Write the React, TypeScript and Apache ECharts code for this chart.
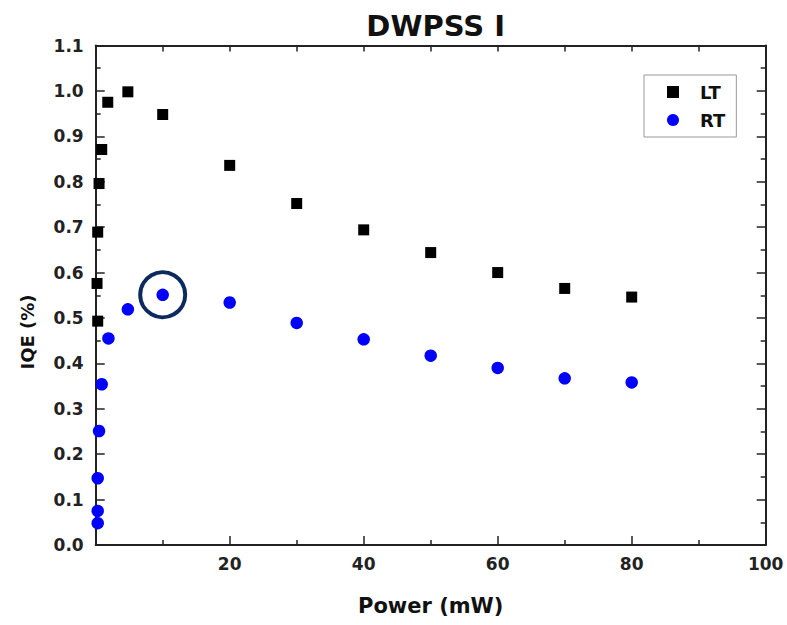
import React, { useEffect, useRef } from "react";
import * as echarts from "echarts";

const TITLE = "DWPSS I";
const X_NAME = "Power (mW)";
const Y_NAME = "IQE (%)";
const SERIES_NAMES = ["LT", "RT"];

// Power (mW) values
const LT_X = [0.3, 0.2, 0.3, 0.5, 0.9, 1.8, 4.8, 10, 20, 30, 40, 50, 60, 70, 80];
const LT_Y = [0.493, 0.576, 0.689, 0.796, 0.871, 0.975, 0.998, 0.948, 0.836, 0.752, 0.694, 0.644, 0.600, 0.565, 0.546];

const RT_X = [0.3, 0.3, 0.3, 0.5, 0.9, 1.9, 4.8, 10, 20, 30, 40, 50, 60, 70, 80];
const RT_Y = [0.048, 0.075, 0.147, 0.251, 0.354, 0.455, 0.519, 0.551, 0.534, 0.489, 0.453, 0.417, 0.390, 0.367, 0.358];

// highlighted point
const HIGHLIGHT = [[10, 0.551]];

const FONT = "DejaVu Sans";

export default function App() {
  const ref = useRef<HTMLDivElement>(null);

  useEffect(() => {
    if (!ref.current) return;
    const chart = echarts.init(ref.current, null, { renderer: "svg" });

    const lt = LT_X.map((x, i) => [x, LT_Y[i]]);
    const rt = RT_X.map((x, i) => [x, RT_Y[i]]);

    const mkLine = () => ({ show: true, onZero: false, lineStyle: { color: "#222", width: 2 } });
    const mkTick = (len: number) => ({
      show: true,
      inside: false,
      length: -len,
      lineStyle: { color: "#222", width: 1.5 },
    });
    const mkMinor = () => ({ show: true, splitNumber: 2, length: -5, lineStyle: { color: "#222", width: 1.5 } });

    chart.setOption({
      animation: false,
      backgroundColor: "#fff",
      title: {
        text: TITLE,
        left: 430.7,
        top: 6,
        textAlign: "center",
        textStyle: { fontFamily: FONT, fontWeight: "bold", fontSize: 29, color: "#111" },
      },
      grid: { left: 95.7, right: 21.3, top: 45.5, bottom: 80 },
      legend: {
        data: [
          { name: "LT", icon: "rect" },
          { name: "RT", icon: "circle" },
        ],
        orient: "vertical",
        left: 644,
        top: 75,
        padding: [8, 11, 8, 23],
        itemGap: 10,
        itemWidth: 12,
        itemHeight: 12,
        borderColor: "#999",
        borderWidth: 1,
        textStyle: {
          fontFamily: FONT,
          fontWeight: "bold",
          fontSize: 18,
          color: "#111",
          padding: [0, 0, 0, 16],
        },
      },
      xAxis: [
        {
          type: "value",
          min: 0,
          max: 100,
          interval: 20,
          axisLine: mkLine(),
          splitLine: { show: false },
          axisTick: mkTick(9),
          minorTick: mkMinor(),
          axisLabel: {
            margin: 10,
            showMinLabel: false,
            fontFamily: FONT,
            fontWeight: "bold",
            fontSize: 17,
            color: "#222",
            formatter: (v: number) => (v === 0 ? "" : String(v)),
          },
        },
        {
          type: "value",
          position: "top",
          min: 0,
          max: 100,
          interval: 10,
          axisLine: mkLine(),
          splitLine: { show: false },
          axisTick: mkTick(6),
          axisLabel: { show: false },
        },
      ],
      yAxis: [
        {
          type: "value",
          min: 0,
          max: 1.1,
          interval: 0.1,
          axisLine: mkLine(),
          splitLine: { show: false },
          axisTick: mkTick(9),
          minorTick: mkMinor(),
          axisLabel: {
            margin: 12,
            fontFamily: FONT,
            fontWeight: "bold",
            fontSize: 17,
            color: "#222",
            formatter: (v: number) => v.toFixed(1),
          },
        },
        {
          type: "value",
          position: "right",
          min: 0,
          max: 1.1,
          interval: 0.1,
          axisLine: mkLine(),
          splitLine: { show: false },
          axisTick: mkTick(9),
          minorTick: mkMinor(),
          axisLabel: { show: false },
        },
      ],
      graphic: [
        {
          type: "text",
          x: 430.7,
          y: 606,
          style: {
            text: X_NAME,
            fontFamily: FONT,
            fontWeight: "bold",
            fontSize: 21,
            fill: "#111",
            textAlign: "center",
            textVerticalAlign: "middle",
          },
        },
        {
          type: "text",
          x: 27,
          y: 332,
          rotation: Math.PI / 2,
          style: {
            text: Y_NAME,
            fontFamily: FONT,
            fontWeight: "bold",
            fontSize: 18,
            fill: "#111",
            textAlign: "center",
            textVerticalAlign: "middle",
          },
        },
      ],
      series: [
        {
          name: SERIES_NAMES[0],
          type: "scatter",
          data: lt,
          symbol: "rect",
          symbolSize: 11,
          clip: false,
          itemStyle: { color: "#000", opacity: 1 },
          z: 3,
        },
        {
          name: SERIES_NAMES[1],
          type: "scatter",
          data: rt,
          symbol: "circle",
          symbolSize: 12.5,
          clip: false,
          itemStyle: { color: "#0000ff", opacity: 1 },
          z: 3,
        },
        {
          name: "highlight",
          type: "scatter",
          data: HIGHLIGHT,
          symbol: "circle",
          symbolSize: 45,
          silent: true,
          clip: false,
          itemStyle: { color: "rgba(0,0,0,0)", borderColor: "#0c2a5e", borderWidth: 4, opacity: 1 },
          z: 4,
        },
      ],
    });

    return () => chart.dispose();
  }, []);

  return (
    <div
      ref={ref}
      style={{ position: "fixed", left: 0, top: 0, width: 787, height: 625, background: "#fff" }}
    />
  );
}
